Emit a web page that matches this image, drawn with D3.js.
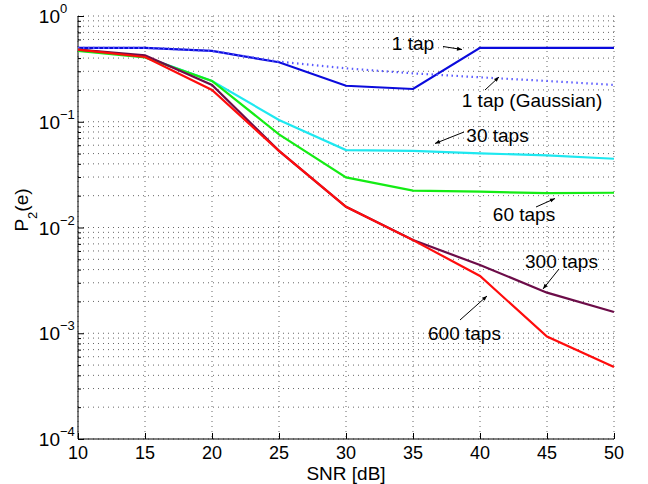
<!DOCTYPE html>
<html>
<head>
<meta charset="utf-8">
<script src="https://cdn.jsdelivr.net/npm/d3@7"></script>
<style>
  body { margin: 0; background: #fff; }
  text { font-family: "Liberation Sans", Arial, sans-serif; fill: #000; }
</style>
</head>
<body>
<div id="chart"></div>
<script>
// datos
const snr = [10, 15, 20, 25, 30, 35, 40, 45, 50];
const tap1 = [0.50, 0.50, 0.467, 0.365, 0.219, 0.204, 0.50, 0.50, 0.50];
const tap1Gauss = [0.50, 0.50, 0.467, 0.37, 0.32, 0.287, 0.263, 0.243, 0.223];
const taps30 = [0.48, 0.41, 0.243, 0.104, 0.054, 0.053, 0.0503, 0.048, 0.0447];
const taps60 = [0.467, 0.406, 0.243, 0.076, 0.0298, 0.0223, 0.0218, 0.0211, 0.0213];
const taps300 = [0.48, 0.425, 0.223, 0.053, 0.0157, 0.0076, 0.00442, 0.00242, 0.00159];
const taps600 = [0.48, 0.41, 0.20, 0.053, 0.0157, 0.0076, 0.00348, 0.00093, 0.00048];
const xTicks = [10, 15, 20, 25, 30, 35, 40, 45, 50];
const yExps = [0, -1, -2, -3, -4];

const W = 648, H = 484;
const margin = {top: 16, right: 34, bottom: 45, left: 78};
const width = W - margin.left - margin.right;
const height = H - margin.top - margin.bottom;

const svg = d3.select("#chart").append("svg")
  .attr("width", W).attr("height", H);

const g = svg.append("g")
  .attr("transform", "translate(" + margin.left + "," + margin.top + ")");

const x = d3.scaleLinear().domain([10, 50]).range([0, width]);
const y = d3.scaleLog().domain([1e-4, 1]).range([height, 0]);

// rejilla punteada
const minorVals = [];
for (let e = -4; e < 0; e++) {
  for (let m = 1; m <= 9; m++) minorVals.push(m * Math.pow(10, e));
}
minorVals.push(1);

g.selectAll(".hgrid").data(minorVals).enter().append("line")
  .attr("class", "hgrid")
  .attr("x1", 0).attr("x2", width)
  .attr("y1", d => y(d)).attr("y2", d => y(d))
  .style("stroke", "#666").style("stroke-width", 1)
  .style("stroke-dasharray", "1,4");

g.selectAll(".vgrid").data(xTicks).enter().append("line")
  .attr("class", "vgrid")
  .attr("y1", 0).attr("y2", height)
  .attr("x1", d => x(d)).attr("x2", d => x(d))
  .style("stroke", "#666").style("stroke-width", 1)
  .style("stroke-dasharray", "1,4");

// ejes
const xAxis = d3.axisBottom(x).tickValues(xTicks).tickSize(-6).tickFormat("");
g.append("g").attr("transform", "translate(0," + height + ")").call(xAxis)
  .call(s => s.select(".domain").attr("d", "M0,0H" + width).style("stroke", "#000"));

const yAxis = d3.axisLeft(y).tickValues(minorVals)
  .tickSize(-3).tickFormat("");
const ya = g.append("g").call(yAxis);
ya.select(".domain").attr("d", "M0,0V" + height).style("stroke", "#000");
ya.selectAll(".tick line").attr("x2", d => (Math.abs(Math.log10(d) - Math.round(Math.log10(d))) < 1e-9) ? 6 : 3);

// etiquetas de los ejes
g.selectAll(".xlab").data(xTicks).enter().append("text")
  .attr("x", d => x(d)).attr("y", height + 20)
  .attr("text-anchor", "middle").style("font-size", "18px")
  .text(d => d);

g.selectAll(".ylab").data(yExps).enter().append("text")
  .attr("x", -18).attr("y", d => y(Math.pow(10, d)) + 7)
  .attr("text-anchor", "end").style("font-size", "19px")
  .text("10");
g.selectAll(".yexp").data(yExps).enter().append("text")
  .attr("x", -18).attr("y", d => y(Math.pow(10, d)) - 3)
  .attr("text-anchor", "start").style("font-size", "13px")
  .text(d => d === 0 ? "0" : "\u2212" + (-d));

g.append("text").attr("x", width / 2).attr("y", height + 41)
  .attr("text-anchor", "middle").style("font-size", "19px").text("SNR [dB]");

const ylab = svg.append("text")
  .attr("transform", "translate(28,210) rotate(-90)")
  .attr("text-anchor", "middle").style("font-size", "19px");
ylab.append("tspan").text("P");
ylab.append("tspan").attr("dy", 9).style("font-size", "13px").text("2");
ylab.append("tspan").attr("dy", -9).text("(e)");

// curvas
const line = d3.line().x((d, i) => x(snr[i])).y(d => y(d));
const series = [
  {v: tap1, c: "#0b0bdc", dash: null},
  {v: tap1Gauss, c: "#5a5aff", dash: "1.5,3.5"},
  {v: taps30, c: "#1ee8f0", dash: null},
  {v: taps60, c: "#14ec14", dash: null},
  {v: taps300, c: "#6c0c48", dash: null},
  {v: taps600, c: "#ff0c0c", dash: null}
];
g.selectAll(".serie").data(series).enter().append("path")
  .attr("class", "serie")
  .attr("d", d => line(d.v))
  .style("fill", "none")
  .style("stroke", d => d.c)
  .style("stroke-width", 2.2)
  .style("stroke-dasharray", d => d.dash);

// anotaciones con flechas
svg.append("defs").append("marker")
  .attr("id", "arr").attr("viewBox", "0 0 10 10")
  .attr("refX", 10).attr("refY", 5)
  .attr("markerWidth", 7).attr("markerHeight", 5)
  .attr("orient", "auto")
  .append("path").attr("d", "M0,1L10,5L0,9Z").style("fill", "#000");

const notes = [
  {t: "1 tap", tx: 413, ty: 50, x1: 443, y1: 46.5, x2: 462, y2: 49.5},
  {t: "1 tap (Gaussian)", tx: 532, ty: 106.5, x1: 485, y1: 90, x2: 499, y2: 77},
  {t: "30 taps", tx: 497.5, ty: 141.5, x1: 464, y1: 132, x2: 435, y2: 143.5},
  {t: "60 taps", tx: 524, ty: 220.5, x1: 536, y1: 207, x2: 555, y2: 198.5},
  {t: "300 taps", tx: 561.5, ty: 268, x1: 559, y1: 269, x2: 543, y2: 289},
  {t: "600 taps", tx: 464.5, ty: 340, x1: 460, y1: 320, x2: 487, y2: 296}
];
svg.selectAll(".note").data(notes).enter().append("text")
  .attr("x", d => d.tx).attr("y", d => d.ty)
  .attr("text-anchor", "middle").style("font-size", "19px")
  .text(d => d.t);
svg.selectAll(".arrow").data(notes).enter().append("line")
  .attr("x1", d => d.x1).attr("y1", d => d.y1)
  .attr("x2", d => d.x2).attr("y2", d => d.y2)
  .style("stroke", "#000").style("stroke-width", 1)
  .attr("marker-end", "url(#arr)");
</script>
</body>
</html>
